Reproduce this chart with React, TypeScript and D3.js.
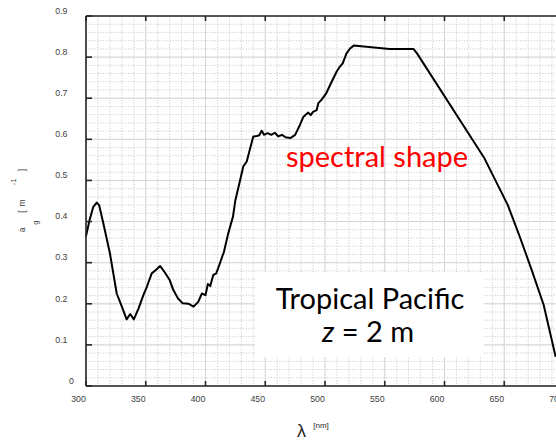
import React from "react";
import * as d3 from "d3";

const wavelengths = [300, 303, 306, 309, 311, 314.5, 320, 325.7, 330, 334, 337, 340, 344, 348, 351, 355, 358, 362, 366, 370, 373, 377, 381, 386, 390, 394, 397, 400, 402, 404, 406.5, 409, 412, 415.5, 419, 423, 425, 429, 431.6, 434.5, 437, 440, 443, 445, 447, 449, 452, 455, 458, 461, 464, 467, 471, 475, 479, 482, 486, 488, 490, 493, 494.4, 497, 501, 505.6, 509.8, 512.5, 514.8, 518, 521, 524, 554, 574, 577, 633, 653, 663, 673, 683, 693];
const absorption = [0.364, 0.404, 0.435, 0.446, 0.44, 0.396, 0.323, 0.225, 0.193, 0.162, 0.175, 0.162, 0.189, 0.221, 0.242, 0.274, 0.281, 0.292, 0.276, 0.258, 0.234, 0.213, 0.201, 0.2, 0.193, 0.205, 0.225, 0.221, 0.248, 0.243, 0.27, 0.274, 0.298, 0.327, 0.371, 0.412, 0.452, 0.501, 0.534, 0.546, 0.574, 0.607, 0.608, 0.61, 0.621, 0.611, 0.615, 0.611, 0.616, 0.607, 0.611, 0.605, 0.603, 0.611, 0.635, 0.655, 0.665, 0.659, 0.667, 0.671, 0.688, 0.696, 0.712, 0.74, 0.765, 0.777, 0.785, 0.809, 0.821, 0.828, 0.82, 0.82, 0.809, 0.556, 0.44, 0.363, 0.282, 0.197, 0.071];

const xTicks = [300, 350, 400, 450, 500, 550, 600, 650, 700];
const yTicks = [0, 0.1, 0.2, 0.3, 0.4, 0.5, 0.6, 0.7, 0.8, 0.9];
const xMinor = d3.range(300, 701, 10);
const yMinor = d3.range(0, 0.9001, 0.02);

const W = 556;
const H = 440;

export default function App() {
  const x = d3.scaleLinear().domain([300, 700]).range([86, 564]);
  const y = d3.scaleLinear().domain([0, 0.9]).range([386, 16]);
  const data = wavelengths.map((w, i) => [w, absorption[i]] as [number, number]);
  const line = d3
    .line<[number, number]>()
    .x((d) => x(d[0]))
    .y((d) => y(d[1]));

  const x0 = x(300);
  const x1 = x(700);
  const y0 = y(0);
  const y1 = y(0.9);
  const tickFont = "'Liberation Sans', Arial, sans-serif";
  const annFont = "Lato, 'Open Sans', sans-serif";

  return (
    <svg
      width={W}
      height={H}
      viewBox={`0 0 ${W} ${H}`}
      style={{ position: "absolute", left: 0, top: 0, background: "#fff" }}
    >
      <rect x={0} y={0} width={W} height={H} fill="#fff" />
      {/* minor grid */}
      <g stroke="#c0c0c0" strokeWidth={0.8} strokeDasharray="1.2 1.6">
        {xMinor.map((v) => (
          <line key={"xm" + v} x1={x(v)} x2={x(v)} y1={y1} y2={y0} />
        ))}
        {yMinor.map((v, i) => (
          <line key={"ym" + i} x1={x0} x2={x1} y1={y(v)} y2={y(v)} />
        ))}
      </g>
      {/* major grid */}
      <g stroke="#d6d6d6" strokeWidth={1}>
        {xTicks.map((v) => (
          <line key={"xg" + v} x1={x(v)} x2={x(v)} y1={y1} y2={y0} />
        ))}
        {yTicks.map((v) => (
          <line key={"yg" + v} x1={x0} x2={x1} y1={y(v)} y2={y(v)} />
        ))}
      </g>

      {/* white annotation box */}
      <rect x={255} y={272} width={229} height={85} fill="#fff" />

      {/* curve */}
      <path d={line(data) || ""} fill="none" stroke="#000" strokeWidth={2} strokeLinejoin="round" />

      {/* axes */}
      <g stroke="#262626" strokeWidth={1.6}>
        <line x1={x0} x2={x1} y1={y0} y2={y0} />
        <line x1={x0} x2={x1} y1={y1} y2={y1} />
        <line x1={x0} x2={x0} y1={y1} y2={y0} />
        {xTicks.map((v) => (
          <g key={"xt" + v}>
            <line x1={x(v)} x2={x(v)} y1={y0} y2={y0 - 5} />
            <line x1={x(v)} x2={x(v)} y1={y1} y2={y1 + 5} />
          </g>
        ))}
        {yTicks.map((v) => (
          <line key={"yt" + v} x1={x0} x2={x0 + 6} y1={y(v)} y2={y(v)} />
        ))}
      </g>

      {/* tick labels */}
      <g fontFamily={tickFont} fontSize={8.8} fill="#404040">
        {xTicks.map((v) => (
          <text key={"xl" + v} x={x(v) - 7.5} y={402} textAnchor="middle">
            {v}
          </text>
        ))}
        {yTicks.map((v) => (
          <text key={"yl" + v} x={v === 0 ? 74 : 67.5} y={y(v) - 2.2} textAnchor="end">
            {v === 0 ? "0" : d3.format(".1f")(v)}
          </text>
        ))}
      </g>

      {/* y label */}
      <g transform="rotate(-90)" fontFamily={tickFont} fontSize={8.5} fill="#404040">
        <text x={-230} y={24.5} textAnchor="middle">a</text>
        <text x={-222.7} y={38} textAnchor="middle" fontSize={7.5}>g</text>
        <text x={-211.5} y={24.5} textAnchor="middle">[</text>
        <text x={-203} y={24.5} textAnchor="middle">m</text>
        <text x={-182} y={16} textAnchor="middle" fontSize={7.5}>-1</text>
        <text x={-170} y={24.5} textAnchor="middle">]</text>
      </g>

      {/* x label */}
      <text x={301.5} y={437} textAnchor="middle" fontFamily={tickFont} fontSize={18} fill="#262626">
        λ
      </text>
      <text x={321} y={428} textAnchor="middle" fontFamily={tickFont} fontSize={8} fill="#262626">
        [nm]
      </text>

      {/* annotations */}
      <text x={377} y={167} textAnchor="middle" fontFamily={annFont} fontSize={29} fill="#ff0000">
        spectral shape
      </text>
      <text x={370} y={309} textAnchor="middle" fontFamily={annFont} fontSize={29} fill="#000">
        Tropical Pacific
      </text>
      <text x={368} y={342} textAnchor="middle" fontFamily={annFont} fontSize={29} fill="#000">
        <tspan fontStyle="italic">z</tspan> = 2 m
      </text>
    </svg>
  );
}
